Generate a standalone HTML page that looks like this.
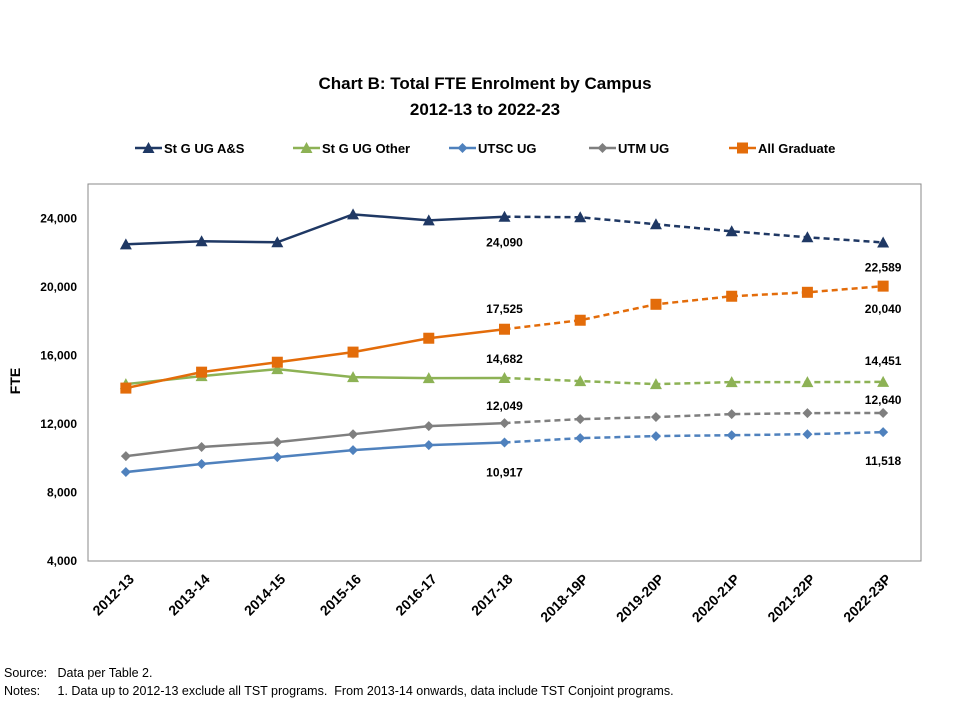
<!DOCTYPE html>
<html><head><meta charset="utf-8"><style>
body{margin:0;background:#fff;}
svg{font-family:"Liberation Sans",Arial,sans-serif;}
.pre{white-space:pre;}
</style></head><body>
<svg id="chart" width="953" height="703">
<text x="485" y="89" text-anchor="middle" font-size="17" font-weight="bold" fill="#000">Chart B: Total FTE Enrolment by Campus</text>
<text x="485" y="115" text-anchor="middle" font-size="17" font-weight="bold" fill="#000">2012-13 to 2022-23</text>
<rect x="88" y="184" width="833" height="377" fill="none" stroke="#888" stroke-width="1"/>
<g id="legend"></g>
<g id="yaxis"></g>
<g id="xaxis"></g>
<g id="series"></g>
<text x="20" y="381" transform="rotate(-90 20 381)" text-anchor="middle" font-size="14" font-weight="bold">FTE</text>
<text class="pre" x="4" y="677" font-size="12.5">Source:   Data per Table 2.</text>
<text class="pre" x="4" y="695" font-size="12.5">Notes:     1. Data up to 2012-13 exclude all TST programs.  From 2013-14 onwards, data include TST Conjoint programs.</text>
</svg>
<script>
const categories=["2012-13","2013-14","2014-15","2015-16","2016-17","2017-18","2018-19P","2019-20P","2020-21P","2021-22P","2022-23P"];
const stgAS=[22480,22660,22600,24230,23880,24090,24060,23650,23240,22890,22589];
const stgOther=[14320,14790,15200,14730,14670,14682,14500,14320,14440,14440,14451];
const utsc=[9190,9660,10060,10470,10760,10917,11170,11290,11340,11400,11518];
const utm=[10120,10650,10940,11400,11870,12049,12280,12400,12570,12630,12640];
const grad=[14090,15020,15600,16190,17000,17525,18050,18980,19450,19680,20040];
const yTicks=[4000,8000,12000,16000,20000,24000];
const lastActual=5;
const NS="http://www.w3.org/2000/svg";
const X0=88,W=833,Y0=561,H=377,YMIN=4000,YMAX=26000;
const xs=i=>X0+W/categories.length*(i+0.5);
const ys=v=>Y0-(v-YMIN)/(YMAX-YMIN)*H;
function mk(t,a,p){const e=document.createElementNS(NS,t);for(const k in a)e.setAttribute(k,a[k]);p.appendChild(e);return e;}
const ya=document.getElementById('yaxis');
yTicks.forEach(v=>{const t=mk('text',{x:77,y:ys(v)+4,'text-anchor':'end','font-size':12,'font-weight':'bold'},ya);t.textContent=v.toLocaleString('en-US');

});
const xa=document.getElementById('xaxis');
categories.forEach((c,i)=>{const x=xs(i)+9,y=580;const t=mk('text',{x:x,y:y,'text-anchor':'end','font-size':14,'font-weight':'bold',transform:`rotate(-45 ${x} ${y})`},xa);t.textContent=c;

});
const defs=[
 {name:'St G UG A&S',d:stgAS,c:'#1f3864',m:'tri',labs:[[0,0,30],[0,0,29]]},
 {name:'St G UG Other',d:stgOther,c:'#8db255',m:'tri',labs:[[0,0,-15],[0,0,-17]]},
 {name:'UTSC UG',d:utsc,c:'#4f81bd',m:'dia',labs:[[0,0,34],[0,0,33]]},
 {name:'UTM UG',d:utm,c:'#7f7f7f',m:'dia',labs:[[0,0,-13],[0,0,-9]]},
 {name:'All Graduate',d:grad,c:'#e36c0a',m:'sq',labs:[[0,0,-16],[0,0,27]]}];
const sg=document.getElementById('series');
function marker(m,x,y,c,p){let e;
 if(m==='tri')e=mk('polygon',{points:`${x},${y-6} ${x-6},${y+5} ${x+6},${y+5}`,fill:c},p);
 else if(m==='dia')e=mk('polygon',{points:`${x},${y-5} ${x+5},${y} ${x},${y+5} ${x-5},${y}`,fill:c},p);
 else e=mk('rect',{x:x-5.5,y:y-5.5,width:11,height:11,fill:c},p);
 return e;}
defs.forEach((s,si)=>{
 const g=mk('g',{},sg);
 
 
 const a=s.d.slice(0,lastActual+1).map((v,i)=>xs(i)+','+ys(v)).join(' ');
 const b=s.d.slice(lastActual).map((v,i)=>xs(i+lastActual)+','+ys(v)).join(' ');
 mk('polyline',{points:a,fill:'none',stroke:s.c,'stroke-width':2.5},g);
 mk('polyline',{points:b,fill:'none',stroke:s.c,'stroke-width':2.5,'stroke-dasharray':'6,4'},g);
 s.d.forEach((v,i)=>{const e=marker(s.m,xs(i),ys(v),s.c,g);
  
  });
 [lastActual,categories.length-1].forEach((idx,k)=>{const v=s.d[idx];
  const t=mk('text',{x:xs(idx),y:ys(v)+s.labs[k][2],'text-anchor':'middle','font-size':12,'font-weight':'bold'},g);
  t.textContent=v.toLocaleString('en-US');
  
  });
 const lg=document.getElementById('legend');
 const lx=[135,293,449,589,729][si],ly=148;
 const le=mk('g',{},lg);
 
 
 mk('line',{x1:lx,y1:ly,x2:lx+27,y2:ly,stroke:s.c,'stroke-width':2.5},le);
 marker(s.m,lx+13.5,ly,s.c,le);
 const t=mk('text',{x:lx+29,y:ly+5,'font-size':13,'font-weight':'bold'},le);t.textContent=s.name;
});
</script>
</body></html>
